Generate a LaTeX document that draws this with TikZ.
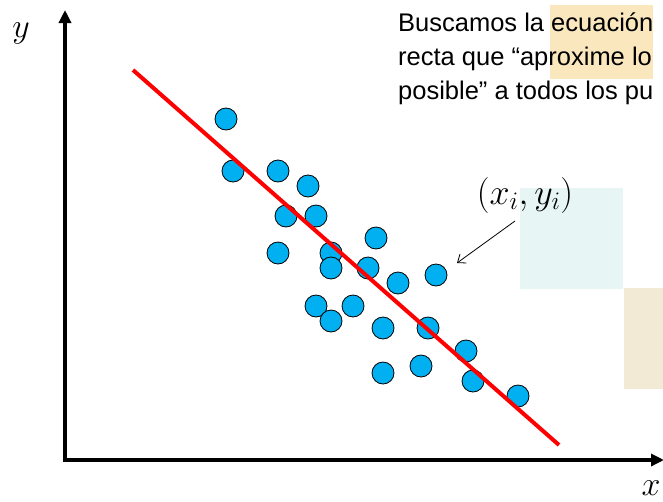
\RequirePackage{fix-cm}
\documentclass[tikz,border=0pt]{standalone}
\usepackage{fontspec}
\setmainfont{Liberation Sans}
\usetikzlibrary{arrows.meta}
\definecolor{ptblue}{RGB}{0,176,240}
\definecolor{hlorange}{RGB}{250,231,190}
\definecolor{paleblue}{RGB}{232,245,245}
\definecolor{palebeige}{RGB}{243,234,214}
\begin{document}
\begin{tikzpicture}[x=1pt,y=-1pt,
  dot/.style={circle,draw=black,line width=0.8pt,fill=ptblue,minimum size=22pt,inner sep=0pt},
  axisline/.style={line width=3.5pt,-{Triangle[length=13pt,width=12pt]}},
  txt/.style={anchor=base west,inner sep=0pt,font=\fontsize{25.5}{30}\selectfont},
  mathlbl/.style={inner sep=0pt,font=\fontsize{34}{38}\selectfont}]
\useasboundingbox (0,0) rectangle (663,501);
% background boxes
\fill[hlorange] (550,5) rectangle (653,79);
\fill[paleblue] (520,188) rectangle (623,289);
\fill[palebeige] (624,288) rectangle (663,389);
% text
\node[txt] (t1) at (398,31) {Buscamos la ecuación};
\node[txt] (t2) at (398,65) {recta que “aproxime lo};
\node[txt] (t3) at (398,99) {posible” a todos los pu};
% axes
\coordinate (O) at (65,460);
\coordinate (ytip) at (65,10);
\coordinate (xtip) at (664,460);
\draw[axisline] (63.25,460) -- (xtip);
\draw[axisline] (O) -- (ytip);
\node[mathlbl] (ylbl) at (21,33) {$y$};
\node[mathlbl] (xlbl) at (651,488) {$x$};
% points
\foreach \n/\px/\py in {1/226/119,2/233/171,3/278/171,4/308/186,5/286/216,6/316/216,
  7/278/253,8/331/253,9/376/238,10/331/268,11/368/268,12/398/283,13/436/275,
  14/316/306,15/353/306,16/331/321,17/383/328,18/428/328,19/466/351,
  20/383/373,21/421/366,22/473/381,23/518/396}
  \node[dot] (p\n) at (\px,\py) {};
% regression line
\coordinate (l1) at (133,70);
\coordinate (l2) at (559,445);
\draw[red,line width=4pt] (l1) -- (l2);
% label and arrow
\node[mathlbl,font=\fontsize{36}{40}\selectfont] (lbl) at (525,195) {$(x_i,y_i)$};
\coordinate (astart) at (515,221);
\coordinate (aend) at (457,263);
\draw[line width=0.8pt,-{Straight Barb[length=7pt,width=11pt]}] (astart) -- (aend);
\end{tikzpicture}
\end{document}
